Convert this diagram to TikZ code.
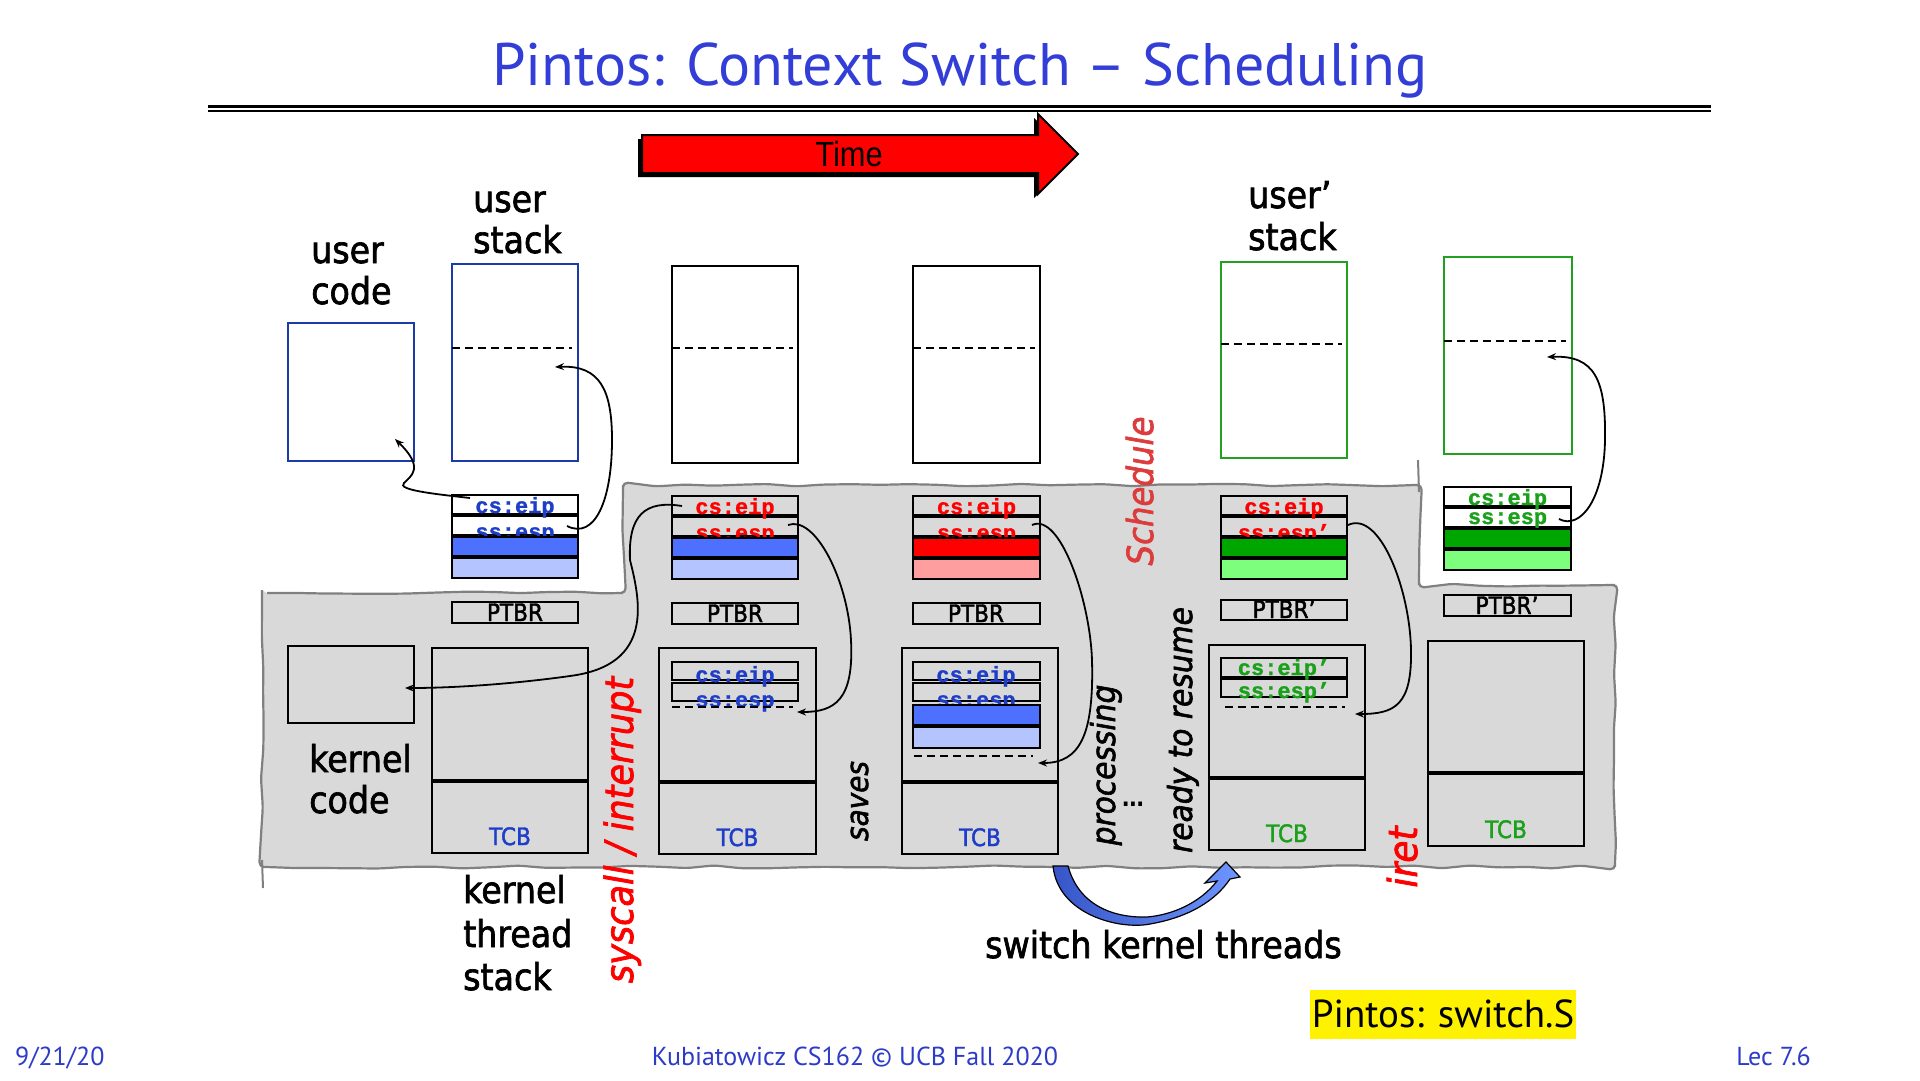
\documentclass[tikz,border=0pt]{standalone}
\usepackage{fontspec}
\setmainfont{DejaVu Sans}
\newfontfamily\comic[FakeStretch=0.9, FakeBold=1.8]{DejaVu Sans}
\newfontfamily\gill{PT Sans}
\newfontfamily\mono[FakeBold=1.2]{Liberation Mono}
\newfontfamily\narrowsans[FakeStretch=0.88]{Liberation Sans}
\usetikzlibrary{fit,arrows.meta,decorations.pathmorphing}

\definecolor{titleblue}{RGB}{50,62,215}
\definecolor{footblue}{RGB}{45,60,200}
\definecolor{ublue}{RGB}{28,58,170}
\definecolor{tblue}{RGB}{30,62,200}
\definecolor{sblue}{RGB}{77,112,255}
\definecolor{lblue}{RGB}{180,196,255}
\definecolor{sred}{RGB}{255,0,0}
\definecolor{lred}{RGB}{255,158,158}
\definecolor{sgreen}{RGB}{0,166,0}
\definecolor{lgreen}{RGB}{125,255,125}
\definecolor{tgreen}{RGB}{26,160,26}
\definecolor{ugreen}{RGB}{34,160,34}
\definecolor{kgray}{RGB}{217,217,217}
\definecolor{kedge}{RGB}{128,128,128}
\definecolor{schedred}{RGB}{220,60,60}
\definecolor{switchA}{RGB}{55,85,200}
\definecolor{switchB}{RGB}{110,150,255}

\tikzset{
  memframe/.style={draw=#1, line width=2.2pt, inner sep=0pt},
  slot/.style={draw=black, line width=2.4pt, inner sep=0pt},
  thinslot/.style={draw=black, line width=2pt, inner sep=0pt},
  band/.style={draw=black, line width=2.4pt, inner sep=0pt, fill=#1},
  kbox/.style={draw=black, line width=2pt, inner sep=0pt},
  divider/.style={line width=3.5pt},
  regtxt/.style={anchor=base, inner sep=0pt, text=#1,
    font=\mono\bfseries\fontsize{22}{22}\selectfont},
  smalltxt/.style={anchor=base, inner sep=0pt, text=#1,
    font=\comic\fontsize{24}{24}\selectfont},
  lbl/.style={anchor=base west, inner sep=0pt,
    font=\comic\fontsize{37}{40}\selectfont},
  vlabel/.style={anchor=base, rotate=90, inner sep=0pt,
    font=\comic\itshape\fontsize{#1}{#1}\selectfont},
  ptr/.style={line width=1.8pt, -{Stealth[length=9pt,width=7pt]}},
  stackline/.style={line width=1.8pt, dash pattern=on 8pt off 5pt},
}

% user-mode register frame pushed on a stack: cs:eip, ss:esp and two saved words
\newcommand\regstack[9]{%
  \node[slot, fit={(#2,#4) (#3,#4+19)}] (#1cs) {};
  \node[slot, fit={(#2,#4+21) (#3,#4+40)}] (#1ss) {};
  \node[regtxt=#5] (#1cst) at ({(#2+#3)/2},#4+18) {cs:eip};
  \node[regtxt=#5] (#1sst) at ({(#2+#3)/2},#9) {#8};
  \node[band=#6, fit={(#2,#4+42) (#3,#4+61)}] (#1dk) {};
  \node[band=#7, fit={(#2,#4+63) (#3,#4+83)}] (#1lt) {};
}

% kernel thread stack with its TCB at the bottom
\newcommand\kstack[7]{%
  \node[kbox, fit={(#2,#4) (#3,#6)}] (#1tcb) {};
  \draw[divider] (#2,#5) -- (#3,#5);
  \node[smalltxt=#7] (#1tcbt) at ({(#2+#3)/2},#6-8) {TCB};
}

\begin{document}
\begin{tikzpicture}[x=1pt,y=-1pt]
\useasboundingbox (0,0) rectangle (1920,1080);
\fill[white] (0,0) rectangle (1920,1080);

% ---------- title ----------
\node[anchor=base, inner sep=0pt, text=titleblue,
      font=\gill\fontsize{60}{62}\selectfont] (title) at (960,85)
      {Pintos: Context Switch – Scheduling};
\draw[line width=3pt] (208,106) -- (1711,106);
\draw[line width=2pt] (208,110.5) -- (1711,110.5);

% ---------- time arrow ----------
\path[fill=black, shift={(-4,4)}] (642,135) -- (1038,135) -- (1038,114) -- (1078,154)
  -- (1038,194) -- (1038,173) -- (642,173) -- cycle;
\path[fill=red, draw=black, line width=2pt] (642,135) -- (1038,135) -- (1038,114) -- (1078,154)
  -- (1038,194) -- (1038,173) -- (642,173) -- cycle;
\node[anchor=base, inner sep=0pt, font=\narrowsans\fontsize{35}{35}\selectfont] (time) at (849,166) {Time};

% ---------- kernel address space ----------
\pgfmathsetseed{11}
\path[fill=kgray, draw=kedge, line width=2.2pt, decorate,
      decoration={random steps, segment length=28pt, amplitude=1.6pt}, rounded corners=5pt]
  (262,593) -- (623,593) -- (623,485) -- (1419,485) -- (1419,585) -- (1615,585)
  -- (1615,867) -- (262,867) -- cycle;
\draw[kedge, line width=2pt] (262,860) -- (263,888);
\draw[kedge, line width=2pt] (1419,492) -- (1418,460);

% ---------- user memory ----------
\node[memframe=ublue, fit={(288,323) (414,461)}] (ucode) {};
\node[memframe=ublue, fit={(452,264) (578,461)}] (ustack1) {};
\node[memframe=black, fit={(672,266) (798,463)}] (ustack2) {};
\node[memframe=black, fit={(913,266) (1040,463)}] (ustack3) {};
\node[memframe=ugreen, fit={(1221,262) (1347,458)}] (ustack4) {};
\node[memframe=ugreen, fit={(1444,257) (1572,454)}] (ustack5) {};
\draw[stackline] (452,348) -- (572,348);
\draw[stackline] (672,348) -- (793,348);
\draw[stackline] (913,348) -- (1035,348);
\draw[stackline] (1221,344) -- (1342,344);
\draw[stackline] (1444,341) -- (1566,341);

\node[lbl] (lu1) at (311,263) {user};
\node[lbl] (lc1) at (311,304) {code};
\node[lbl] (lu2) at (473,212) {user};
\node[lbl] (ls2) at (473,253) {stack};
\node[lbl] (lu3) at (1248,208) {user’};
\node[lbl] (ls3) at (1248,250) {stack};

% ---------- register frames ----------
\regstack{sa}{452}{578}{495}{tblue}{sblue}{lblue}{ss:esp}{539}
\regstack{sb}{672}{798}{496}{sred}{sblue}{lblue}{ss:esp}{540}
\regstack{sc}{913}{1040}{496}{sred}{sred}{lred}{ss:esp}{540}
\regstack{sd}{1221}{1347}{496}{sred}{sgreen}{lgreen}{ss:esp’}{540}
\regstack{se}{1444}{1571}{487}{tgreen}{sgreen}{lgreen}{ss:esp}{524}

% ---------- page table base registers ----------
\node[kbox, fit={(452,602) (578,623)}] (pa) {};
\node[smalltxt=black] (pat) at (515,621) {PTBR};
\node[kbox, fit={(672,603) (798,624)}] (pb) {};
\node[smalltxt=black] (pbt) at (735,622) {PTBR};
\node[kbox, fit={(913,603) (1040,624)}] (pc) {};
\node[smalltxt=black] (pct) at (976,622) {PTBR};
\node[kbox, fit={(1221,600) (1347,620)}] (pd) {};
\node[smalltxt=black] (pdt) at (1284,618) {PTBR’};
\node[kbox, fit={(1444,595) (1571,616)}] (pe) {};
\node[smalltxt=black] (pet) at (1507,614) {PTBR’};

% ---------- kernel code and kernel thread stacks ----------
\node[kbox, fit={(288,646) (414,723)}] (kcode) {};
\node[lbl] (lk1) at (309,772) {kernel};
\node[lbl] (lk2) at (309,813) {code};

\kstack{ka}{432}{588}{648}{781}{853}{tblue}
\kstack{kb}{659}{816}{648}{782}{854}{tblue}
\kstack{kc}{902}{1058}{648}{782}{854}{tblue}
\kstack{kd}{1209}{1365}{645}{778}{850}{tgreen}
\kstack{ke}{1428}{1584}{641}{773}{846}{tgreen}

% saved frame inside the second kernel stack
\node[thinslot, fit={(672,662) (798,680)}] (kbcs) {};
\node[thinslot, fit={(672,683) (798,701)}] (kbss) {};
\node[regtxt=tblue] (kbcst) at (735,682) {cs:eip};
\node[regtxt=tblue] (kbsst) at (735,707) {ss:esp};
\draw[stackline] (672,707) -- (793,707);

% saved frame inside the third kernel stack
\node[thinslot, fit={(913,662) (1040,680)}] (kccs) {};
\node[thinslot, fit={(913,683) (1040,701)}] (kcss) {};
\node[regtxt=tblue] (kccst) at (976,682) {cs:eip};
\node[regtxt=tblue] (kcsst) at (976,707) {ss:esp};
\node[band=sblue, fit={(913,705) (1040,725)}] (kcdk) {};
\node[band=lblue, fit={(913,727) (1040,748)}] (kclt) {};
\draw[stackline] (914,756) -- (1033,756);

% saved frame inside the fourth kernel stack
\node[thinslot, fit={(1221,658) (1347,677)}] (kdcs) {};
\node[thinslot, fit={(1221,679) (1347,697)}] (kdss) {};
\node[regtxt=tgreen] (kdcst) at (1284,675) {cs:eip’};
\node[regtxt=tgreen] (kdsst) at (1284,698) {ss:esp’};
\draw[stackline] (1225,707) -- (1345,707);

\node[lbl] (lk3) at (463,903) {kernel};
\node[lbl] (lk4) at (463,947) {thread};
\node[lbl] (lk5) at (463,990) {stack};

% ---------- pointers ----------
\coordinate (p1s) at (470,498);  \coordinate (p1e) at (395,439);
\coordinate (p2s) at (567,526);  \coordinate (p2e) at (555,367);
\coordinate (p3s) at (682,506);  \coordinate (p3e) at (405,688);
\coordinate (p4s) at (788,525);  \coordinate (p4e) at (797,712);
\coordinate (p5s) at (1032,525); \coordinate (p5e) at (1038,763);
\coordinate (p6s) at (1348,525); \coordinate (p6e) at (1355,714);
\coordinate (p7s) at (1559,519); \coordinate (p7e) at (1547,357);

\draw[ptr] (p1s) .. controls (435,494) and (396,490) .. (404,483)
  .. controls (411,476) and (425,468) .. (p1e);
\draw[ptr] (p2s) .. controls (595,540) and (612,500) .. (612,440)
  .. controls (612,390) and (600,365) .. (p2e);
\draw[ptr] (p3s) .. controls (645,500) and (628,515) .. (630,560)
  .. controls (640,600) and (655,665) .. (570,676)
  .. controls (520,683) and (460,688) .. (p3e);
\draw[ptr] (p4s) .. controls (815,515) and (848,580) .. (851,640)
  .. controls (854,700) and (835,712) .. (p4e);
\draw[ptr] (p5s) .. controls (1060,512) and (1090,600) .. (1092,660)
  .. controls (1094,735) and (1080,763) .. (p5e);
\draw[ptr] (p6s) .. controls (1380,510) and (1410,590) .. (1411,650)
  .. controls (1412,705) and (1395,714) .. (p6e);
\draw[ptr] (p7s) .. controls (1580,530) and (1604,500) .. (1605,440)
  .. controls (1606,380) and (1595,355) .. (p7e);

% ---------- phase labels ----------
\node[vlabel=39, text=sred] (lsys) at (633,830) {syscall / interrupt};
\node[vlabel=31] (lsaves) at (868,801) {saves};
\node[vlabel=33] (lproc) at (1115,765) {processing};
\node[anchor=base, inner sep=0pt, font=\narrowsans\bfseries\fontsize{30}{30}\selectfont] (ldots) at (1133,806) {...};
\node[vlabel=33] (lready) at (1192,730) {ready to resume};
\node[vlabel=36, text=schedred] (lsched) at (1153,491) {Schedule};
\node[vlabel=40, text=sred] (liret) at (1417,857) {iret};

% ---------- thread switch arrow ----------
\path[draw=black, line width=1.2pt, left color=switchA, right color=switchB]
  (1053,866) .. controls (1058,915) and (1120,930) .. (1150,924)
  .. controls (1190,917) and (1216,900) .. (1230,879)
  -- (1240,877) -- (1226,862) -- (1205,883) -- (1217,881)
  .. controls (1200,903) and (1172,915) .. (1147,917)
  .. controls (1110,918) and (1078,903) .. (1068,866) -- cycle;
\node[lbl] (lswitch) at (985,958) {switch kernel threads};

% ---------- source note and footer ----------
\node[fill=yellow, inner sep=0pt, minimum width=266pt, minimum height=49pt,
      font=\gill\fontsize{39}{39}\selectfont] (src) at (1443,1014) {Pintos: switch.S};
\node[anchor=base west, inner sep=0pt, text=footblue, font=\gill\fontsize{26}{26}\selectfont]
  (fdate) at (15,1065) {9/21/20};
\node[anchor=base, inner sep=0pt, text=footblue, font=\gill\fontsize{26}{26}\selectfont]
  (fmid) at (855,1065) {Kubiatowicz CS162 © UCB Fall 2020};
\node[anchor=base east, inner sep=0pt, text=footblue, font=\gill\fontsize{26}{26}\selectfont]
  (flec) at (1811,1065) {Lec 7.6};
\end{tikzpicture}
\end{document}
